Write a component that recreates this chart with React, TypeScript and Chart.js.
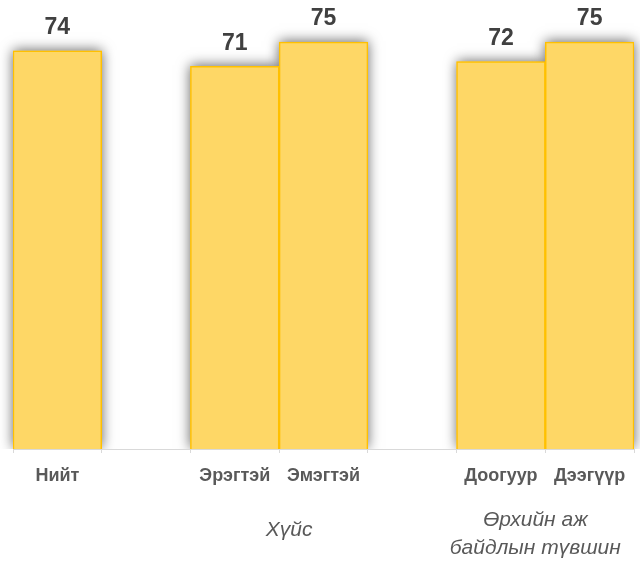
import React, { useEffect, useRef } from "react";
import { Chart, registerables } from "chart.js";

Chart.register(...registerables);

const categories = ["Нийт", "", "Эрэгтэй", "Эмэгтэй", "", "Доогуур", "Дээгүүр"];
const values: (number | null)[] = [73.7, null, 70.8, 75.3, null, 71.7, 75.3];
const groupNames: string[][] = [["Хүйс"], ["Өрхийн аж", "байдлын түвшин"]];
const groupStart = [2, 5];
const groupEnd = [3, 6];
const yMin = 0;
const yMax = 80;

const FILL = "#FED766";
const BORDER = "#FFC000";
const FONT = "'Liberation Sans', Arial, sans-serif";

const shadowPlugin = {
  id: "barShadow",
  beforeDatasetsDraw(chart: any) {
    const ctx = chart.ctx;
    const area = chart.chartArea;
    const meta = chart.getDatasetMeta(0);
    ctx.save();
    ctx.beginPath();
    ctx.rect(area.left - 20, area.top - 20, area.right - area.left + 40, area.bottom - area.top + 20);
    ctx.clip();
    meta.data.forEach((bar: any, i: number) => {
      if (values[i] == null) return;
      const { x, y, base, width } = bar.getProps(["x", "y", "base", "width"], true);
      ctx.save();
      ctx.shadowColor = "rgba(0,0,0,0.6)";
      ctx.shadowBlur = 12;
      ctx.shadowOffsetX = 0;
      ctx.shadowOffsetY = -1;
      ctx.fillStyle = FILL;
      ctx.fillRect(x - width / 2, y, width, base - y);
      ctx.restore();
    });
    ctx.restore();
  },
};

const labelPlugin = {
  id: "customLabels",
  afterDraw(chart: any) {
    const ctx = chart.ctx;
    const meta = chart.getDatasetMeta(0);
    const xs = chart.scales.x;
    ctx.save();
    ctx.fillStyle = "#404040";
    ctx.font = `bold 23px ${FONT}`;
    ctx.textAlign = "center";
    ctx.textBaseline = "middle";
    meta.data.forEach((bar: any, i: number) => {
      const v = values[i];
      if (v == null) return;
      ctx.fillText(String(Math.round(v)), bar.x, bar.y - 23);
    });
    ctx.fillStyle = "#595959";
    ctx.font = `italic 21px ${FONT}`;
    groupNames.forEach((lines, g) => {
      const cx = (xs.getPixelForValue(groupStart[g]) + xs.getPixelForValue(groupEnd[g])) / 2;
      const shift = g === 0 ? 10 : -10;
      const startY = lines.length === 1 ? 530 : 520;
      lines.forEach((ln, k) => {
        ctx.fillText(ln, cx + shift, startY + k * 28);
      });
    });
    ctx.restore();
  },
};

export default function App() {
  const ref = useRef<HTMLCanvasElement | null>(null);
  useEffect(() => {
    if (!ref.current) return;
    const chart = new Chart(ref.current, {
      type: "bar",
      data: {
        labels: categories,
        datasets: [
          {
            data: values,
            backgroundColor: FILL,
            borderColor: BORDER,
            borderWidth: 1.5,
            categoryPercentage: 1,
            barPercentage: 1,
          },
        ],
      },
      options: {
        animation: false,
        responsive: true,
        maintainAspectRatio: false,
        layout: { padding: { left: 13, right: 6, top: 16.7, bottom: 0 } },
        plugins: { legend: { display: false }, tooltip: { enabled: false }, title: { display: false } },
        scales: {
          x: {
            afterFit(s: any) {
              s.height = 112;
            },
            grid: { display: true, drawOnChartArea: false, drawTicks: true, tickLength: 4, color: "#d9d9d9", offset: true },
            border: { display: true, color: "#d9d9d9", width: 1 },
            ticks: { color: "#595959", font: { family: FONT, size: 18, weight: "bold" }, padding: 12, maxRotation: 0, autoSkip: false },
          },
          y: { display: false, min: yMin, max: yMax },
        },
      },
      plugins: [shadowPlugin, labelPlugin],
    });
    return () => chart.destroy();
  }, []);
  return (
    <div style={{ position: "absolute", left: 0, top: 0, width: 640, height: 561 }}>
      <canvas ref={ref} />
    </div>
  );
}
